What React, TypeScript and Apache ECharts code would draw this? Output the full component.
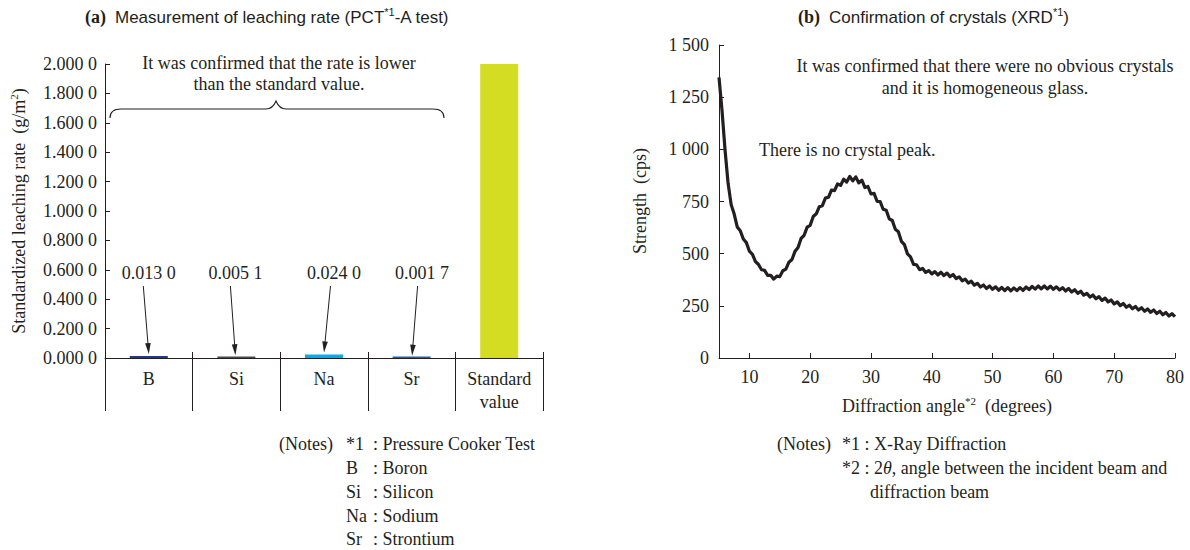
import React, { useEffect, useRef } from "react";
import * as echarts from "echarts";

// ---------- data ----------
const leachCategories = ["B", "Si", "Na", "Sr", "Standard\nvalue"];
const leachValues = [0.013, 0.0051, 0.024, 0.0017, 2.0];
const leachColors = ["#24368f", "#4a4a4a", "#00aeef", "#1565b0", "#d5dd22"];

const xrdTicks = [10, 20, 30, 40, 50, 60, 70, 80];
const xrdAngle = [
  5, 5.5, 6, 6.5, 7, 7.5, 8, 8.5, 9, 9.5, 10, 10.5, 11, 11.5, 12, 12.5, 13, 13.5, 14, 14.5,
  15, 15.5, 16, 16.5, 17, 17.5, 18, 18.5, 19, 19.5, 20, 20.5, 21, 21.5, 22, 22.5, 23, 23.5, 24, 24.5,
  25, 25.5, 26, 26.5, 27, 27.5, 28, 28.5, 29, 29.5, 30, 30.5, 31, 31.5, 32, 32.5, 33, 33.5, 34, 34.5,
  35, 35.5, 36, 36.5, 37, 37.5, 38, 38.5, 39, 39.5, 40, 40.5, 41, 41.5, 42, 42.5, 43, 43.5, 44, 44.5,
  45, 45.5, 46, 46.5, 47, 47.5, 48, 48.5, 49, 49.5, 50, 50.5, 51, 51.5, 52, 52.5, 53, 53.5, 54, 54.5,
  55, 55.5, 56, 56.5, 57, 57.5, 58, 58.5, 59, 59.5, 60, 60.5, 61, 61.5, 62, 62.5, 63, 63.5, 64, 64.5,
  65, 65.5, 66, 66.5, 67, 67.5, 68, 68.5, 69, 69.5, 70, 70.5, 71, 71.5, 72, 72.5, 73, 73.5, 74, 74.5,
  75, 75.5, 76, 76.5, 77, 77.5, 78, 78.5, 79, 79.5, 80,
];
const xrdCps = [
  1345, 1185, 995, 836, 735, 690, 628, 610, 570, 553, 512, 497, 462, 448, 423, 420, 396, 396, 378, 392,
  390, 418, 426, 459, 472, 511, 529, 573, 588, 627, 636, 678, 691, 725, 730, 766, 770, 805, 802, 834,
  827, 857, 843, 870, 849, 868, 839, 852, 817, 822, 786, 789, 751, 750, 713, 708, 667, 659, 617, 605,
  559, 543, 499, 485, 449, 447, 423, 429, 410, 419, 403, 414, 398, 411, 395, 407, 390, 400, 381, 389,
  370, 378, 359, 368, 349, 358, 340, 350, 333, 345, 329, 341, 325, 338, 323, 337, 322, 336, 323, 337,
  324, 340, 328, 343, 330, 345, 331, 345, 331, 344, 329, 341, 326, 337, 321, 333, 316, 327, 310, 320,
  301, 310, 292, 302, 284, 294, 276, 287, 269, 278, 259, 269, 251, 261, 243, 253, 236, 247, 230, 241,
  224, 235, 219, 230, 213, 224, 207, 218, 201, 212, 198,
];

const leftNoteKeys = ["*1", "B", "Si", "Na", "Sr"];
const leftNoteTexts = ["Pressure Cooker Test", "Boron", "Silicon", "Sodium", "Strontium"];

// ---------- styling / layout ----------
const SERIF = '"Liberation Serif", "Times New Roman", serif';
const SANS = '"Liberation Sans", Arial, Helvetica, sans-serif';
const INK = "#231f20";
const FS = 18;

// arrow / label offsets (px) relative to category centre
const arrowStartDx = [-5.5, -6, 6.5, 6];
const arrowTipDx = [0, -1, 0, 0.5];
const labelDx = [0, -1, 10, 10.5];

const fmt4 = (v: number) => {
  const s = v.toFixed(4);
  return s.slice(0, -1) + " " + s.slice(-1);
};
const fmtThousands = (v: number) =>
  v >= 1000 ? Math.floor(v / 1000) + " " + String(v % 1000).padStart(3, "0") : String(v);

const BRACE_D =
  "M110,118 C110,112 113,109 121,109 L266,109 C271,109 274,106 276,101 C278,106 281,109 286,109 L433,109 C440,109 444,112 444,118";
echarts.graphic.registerShape("brace", echarts.graphic.extendPath(BRACE_D, {}) as any);

const axisLineStyle = { color: INK, width: 1 };
const labelStyle = { fontFamily: SERIF, fontSize: FS, color: INK };

function buildOption(): any {
  return {
    animation: false,
    textStyle: { fontFamily: SERIF },
    grid: [
      { left: 105, top: 64, width: 438, height: 294, outerBoundsMode: "none" },
      { left: 719, top: 45, width: 456, height: 313, outerBoundsMode: "none" },
    ],
    xAxis: [
      {
        type: "category",
        gridIndex: 0,
        data: leachCategories,
        boundaryGap: true,
        axisLine: { show: true, lineStyle: axisLineStyle },
        axisTick: { show: true, inside: false, length: 53, interval: 0, alignWithLabel: false, lineStyle: axisLineStyle },
        axisLabel: { ...labelStyle, interval: 0, margin: 9, lineHeight: 23 },
        splitLine: { show: false },
      },
      {
        type: "category",
        gridIndex: 0,
        data: leachCategories,
        position: "bottom",
        axisLine: { show: false },
        axisTick: { show: true, inside: true, length: 6, interval: 0, lineStyle: axisLineStyle },
        axisLabel: { show: false },
        splitLine: { show: false },
      },
      {
        type: "value",
        gridIndex: 1,
        min: 5,
        max: 80,
        axisLine: { show: true, lineStyle: axisLineStyle },
        axisTick: { show: true, inside: true, length: 5, customValues: xrdTicks, lineStyle: axisLineStyle },
        axisLabel: { ...labelStyle, margin: 10, customValues: xrdTicks },
        splitLine: { show: false },
      },
    ],
    yAxis: [
      {
        type: "value",
        gridIndex: 0,
        min: 0,
        max: 2,
        interval: 0.2,
        axisLine: { show: true, lineStyle: axisLineStyle },
        axisTick: { show: true, inside: true, length: 5, lineStyle: axisLineStyle },
        axisLabel: { ...labelStyle, margin: 8, formatter: (v: number) => fmt4(v) },
        splitLine: { show: false },
      },
      {
        type: "value",
        gridIndex: 1,
        min: 0,
        max: 1500,
        interval: 250,
        axisLine: { show: true, lineStyle: axisLineStyle },
        axisTick: { show: true, inside: true, length: 5, lineStyle: axisLineStyle },
        axisLabel: { ...labelStyle, margin: 10, formatter: (v: number) => fmtThousands(v) },
        splitLine: { show: false },
      },
    ],
    series: [
      {
        type: "bar",
        xAxisIndex: 0,
        yAxisIndex: 0,
        barWidth: 38,
        barMinHeight: 1.5,
        data: leachValues.map((v, i) => ({ value: v, itemStyle: { color: leachColors[i] } })),
      },
      {
        type: "line",
        xAxisIndex: 2,
        yAxisIndex: 1,
        data: xrdAngle.map((a, i) => [a, xrdCps[i]]),
        showSymbol: false,
        symbol: "none",
        lineStyle: { color: INK, width: 3.2, join: "round" },
        z: 3,
      },
    ],
  };
}

function txt(x: number, y: number, text: string, extra: any = {}, rot = 0): any {
  return {
    type: "text",
    x,
    y,
    rotation: rot,
    silent: true,
    style: {
      text,
      fontFamily: SERIF,
      fontSize: FS,
      fill: INK,
      align: "left",
      verticalAlign: "middle",
      ...extra,
    },
  };
}

function buildGraphics(chart: any): any[] {
  const g: any[] = [];
  const supSerif = { fontFamily: SERIF, fontSize: 11, fill: INK, verticalAlign: "top", lineHeight: 11 };
  const supSans = { fontFamily: SANS, fontSize: 11, fill: INK, verticalAlign: "top", lineHeight: 11 };

  // titles
  g.push(
    txt(85, 17, "{b|(a)}  {s|Measurement of leaching rate (PCT}{sup|*1}{s|-A test)}", {
      rich: {
        b: { fontFamily: SERIF, fontWeight: "bold", fontSize: FS, fill: INK, lineHeight: 22 },
        s: { fontFamily: SANS, fontSize: 17, fill: INK, lineHeight: 22 },
        sup: supSans,
      },
    })
  );
  g.push(
    txt(798, 17, "{b|(b)}  {s|Confirmation of crystals (XRD}{sup|*1}{s|)}", {
      rich: {
        b: { fontFamily: SERIF, fontWeight: "bold", fontSize: FS, fill: INK, lineHeight: 22 },
        s: { fontFamily: SANS, fontSize: 17, fill: INK, lineHeight: 22 },
        sup: supSans,
      },
    })
  );

  // axis names
  g.push(
    txt(19, 211, "{m|Standardized leaching rate  (g/m}{sup|2}{m|)}", {
      align: "center",
      rich: { m: { fontFamily: SERIF, fontSize: FS, fill: INK, lineHeight: 22 }, sup: supSerif },
    }, Math.PI / 2)
  );
  g.push(txt(640, 201, "Strength  (cps)", { align: "center" }, Math.PI / 2));
  g.push(
    txt(947, 406, "{m|Diffraction angle}{sup|*2}{m|  (degrees)}", {
      align: "center",
      rich: { m: { fontFamily: SERIF, fontSize: FS, fill: INK, lineHeight: 22 }, sup: supSerif },
    })
  );

  // left annotation + brace
  g.push(txt(279, 63, "It was confirmed that the rate is lower", { align: "center" }));
  g.push(txt(279, 84, "than the standard value.", { align: "center" }));
  g.push({ type: "brace", x: 0, y: 0, silent: true, style: { stroke: INK, fill: "none", lineWidth: 1.1 } });

  // value labels and arrows
  for (let i = 0; i < 4; i++) {
    const [cx, yTop] = chart.convertToPixel({ xAxisIndex: 0, yAxisIndex: 0 }, [i, leachValues[i]]);
    const yLab = chart.convertToPixel({ xAxisIndex: 0, yAxisIndex: 0 }, [i, 0.58])[1];
    const yStart = chart.convertToPixel({ xAxisIndex: 0, yAxisIndex: 0 }, [i, 0.49])[1];
    g.push(txt(cx + labelDx[i], yLab, fmt4(leachValues[i]), { align: "center" }));
    const x1 = cx + arrowStartDx[i];
    const y1 = yStart;
    const x2 = cx + arrowTipDx[i];
    const y2 = yTop - 2;
    const dx = x2 - x1;
    const dy = y2 - y1;
    const len = Math.sqrt(dx * dx + dy * dy);
    const ux = dx / len;
    const uy = dy / len;
    const L = 11;
    const W = 2.8;
    const bx = x2 - ux * L;
    const by = y2 - uy * L;
    g.push({
      type: "line",
      silent: true,
      shape: { x1, y1, x2: bx + ux * 2, y2: by + uy * 2 },
      style: { stroke: INK, lineWidth: 1 },
    });
    g.push({
      type: "polygon",
      silent: true,
      shape: {
        points: [
          [x2, y2],
          [bx - uy * W, by + ux * W],
          [bx + uy * W, by - ux * W],
        ],
      },
      style: { fill: INK, stroke: "none" },
    });
  }

  // right annotations
  g.push(txt(985, 66, "It was confirmed that there were no obvious crystals", { align: "center" }));
  g.push(txt(985, 88, "and it is homogeneous glass.", { align: "center" }));
  g.push(txt(759, 150, "There is no crystal peak."));

  // left notes
  const noteY = [444, 468, 492, 516, 539];
  g.push(txt(279, noteY[0], "(Notes)"));
  for (let i = 0; i < leftNoteKeys.length; i++) {
    g.push(txt(346, noteY[i], leftNoteKeys[i]));
    g.push(txt(373, noteY[i], ": " + leftNoteTexts[i]));
  }

  // right notes
  g.push(txt(777, 444, "(Notes)"));
  g.push(txt(842, 444, "*1 : X-Ray Diffraction"));
  g.push(
    txt(842, 468, "{m|*2 : 2}{it|θ}{m|, angle between the incident beam and}", {
      rich: {
        m: { fontFamily: SERIF, fontSize: FS, fill: INK },
        it: { fontFamily: SERIF, fontSize: FS, fontStyle: "italic", fill: INK },
      },
    })
  );
  g.push(txt(870, 492, "diffraction beam"));

  return g;
}

export default function App() {
  const ref = useRef<HTMLDivElement>(null);
  useEffect(() => {
    document.body.style.margin = "0";
    const el = ref.current;
    if (!el) return;
    const chart = echarts.init(el, null, { renderer: "svg" });
    chart.setOption(buildOption());
    chart.setOption({ graphic: buildGraphics(chart) });
    return () => chart.dispose();
  }, []);
  return (
    <div
      ref={ref}
      style={{ position: "absolute", left: 0, top: 0, width: 1190, height: 550, background: "#fff" }}
    />
  );
}
